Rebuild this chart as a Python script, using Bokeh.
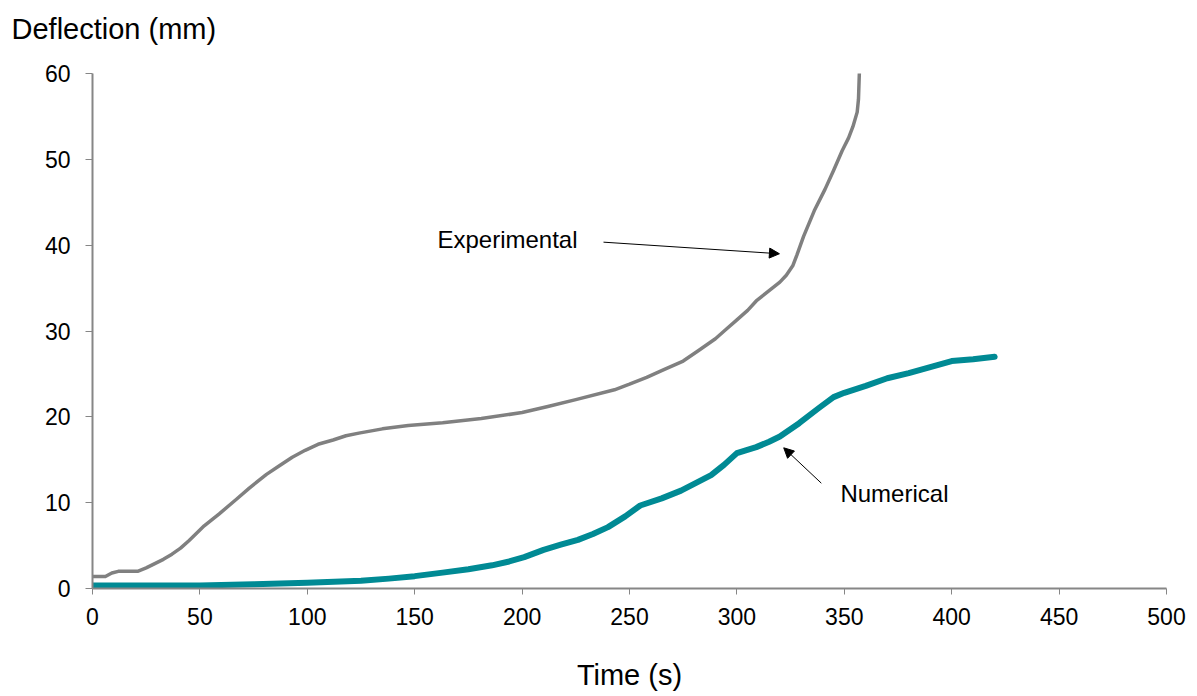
from bokeh.plotting import figure
from bokeh.models import Range1d, Label, Arrow, NormalHead, FixedTicker, Title
from bokeh.embed import file_html
from bokeh.resources import INLINE

# ---- data ----
exp_time = [0, 6, 9, 12, 21, 25, 29, 33, 37, 41, 45, 52, 59, 67, 73, 81, 87, 93, 99, 105, 112, 118,
            124, 135, 147, 163, 181, 200, 212, 225, 243, 250, 258, 266, 275, 282, 290, 295, 300,
            305, 309, 315, 320, 323, 326, 328, 331, 336, 341, 345, 349, 352, 354, 356, 356.6, 357]
exp_defl = [1.4, 1.4, 1.8, 2.0, 2.0, 2.4, 2.9, 3.4, 4.0, 4.7, 5.6, 7.3, 8.7, 10.4, 11.7, 13.3, 14.3,
            15.3, 16.1, 16.8, 17.3, 17.8, 18.1, 18.6, 19.0, 19.3, 19.8, 20.5, 21.2, 22.0, 23.15,
            23.8, 24.6, 25.5, 26.5, 27.7, 29.1, 30.2, 31.3, 32.4, 33.5, 34.7, 35.7, 36.5, 37.6,
            38.9, 41.0, 44.0, 46.5, 48.7, 51.0, 52.5, 53.8, 55.5, 57.0, 60.0]

num_time = [0, 25, 50, 75, 100, 125, 138, 150, 163, 175, 186, 194, 201, 210, 218, 226, 233, 240,
            248, 255, 265, 274, 281, 288, 294, 300, 309, 315, 320, 329, 338, 345, 350, 360, 370,
            380, 390, 400, 410, 420]
num_defl = [0.35, 0.35, 0.35, 0.5, 0.66, 0.9, 1.15, 1.44, 1.85, 2.25, 2.7, 3.15, 3.65, 4.5, 5.1,
            5.67, 6.35, 7.15, 8.4, 9.67, 10.5, 11.4, 12.3, 13.2, 14.4, 15.77, 16.47, 17.1, 17.7,
            19.26, 21.0, 22.3, 22.8, 23.6, 24.5, 25.1, 25.8, 26.5, 26.7, 27.0]

x_ticks = [0, 50, 100, 150, 200, 250, 300, 350, 400, 450, 500]
y_ticks = [0, 10, 20, 30, 40, 50, 60]

FONT = "Liberation Sans"
AXIS_COLOR = "#868686"

p = figure(width=1197, height=696, output_backend="svg", toolbar_location=None,
           x_range=Range1d(0, 500), y_range=Range1d(0, 60),
           min_border_left=92, min_border_right=31, min_border_top=73, min_border_bottom=108)

# blank spacer panel between the frame and the title, so the title sits higher
p.add_layout(Title(text=" ", text_font_size="2px", standoff=20), "above")

p.title.text = "Deflection (mm)"
p.title.text_font = FONT
p.title.text_font_size = "29px"
p.title.text_font_style = "normal"
p.title.align = "left"
p.title.offset = -81
p.title.standoff = 10
p.title.text_color = "black"

p.outline_line_color = None
p.grid.visible = False

for ax in (p.xaxis[0], p.yaxis[0]):
    ax.axis_line_color = AXIS_COLOR
    ax.axis_line_width = 2
    ax.major_tick_line_color = AXIS_COLOR
    ax.major_tick_line_width = 1
    ax.major_tick_in = 0
    ax.major_tick_out = 6
    ax.minor_tick_line_color = None
    ax.major_label_text_font = FONT
    ax.major_label_text_font_size = "23px"
    ax.major_label_text_color = "black"
    ax.major_label_standoff = 13

p.xaxis.ticker = FixedTicker(ticks=x_ticks)
p.yaxis.ticker = FixedTicker(ticks=y_ticks)
p.yaxis.major_tick_out = 7
p.yaxis.major_label_standoff = 15

p.xaxis.axis_label = "Time (s)"
p.xaxis.axis_label_text_font = FONT
p.xaxis.axis_label_text_font_size = "29px"
p.xaxis.axis_label_text_font_style = "normal"
p.xaxis.axis_label_text_color = "black"
p.xaxis.axis_label_standoff = 31

p.line(exp_time, exp_defl, line_color="#808080", line_width=3.5, line_join="round", line_cap="round")
p.line(num_time, num_defl, line_color="#008A94", line_width=6, line_join="round", line_cap="round")

# annotations
p.add_layout(Label(x=160.6, y=40.7, text="Experimental", text_font=FONT, text_font_size="24px",
                   text_baseline="middle", text_align="left", text_color="black"))
p.add_layout(Label(x=348.2, y=11.1, text="Numerical", text_font=FONT, text_font_size="24px",
                   text_baseline="middle", text_align="left", text_color="black"))
p.add_layout(Arrow(end=NormalHead(size=10, fill_color="black", line_color="black"),
                   x_start=237.9, y_start=40.35, x_end=319.8, y_end=39.0,
                   line_color="black", line_width=1))
p.add_layout(Arrow(end=NormalHead(size=10, fill_color="black", line_color="black"),
                   x_start=339.3, y_start=12.27, x_end=321.8, y_end=16.39,
                   line_color="black", line_width=1))

open("out.html", "w").write(file_html(p, INLINE))
